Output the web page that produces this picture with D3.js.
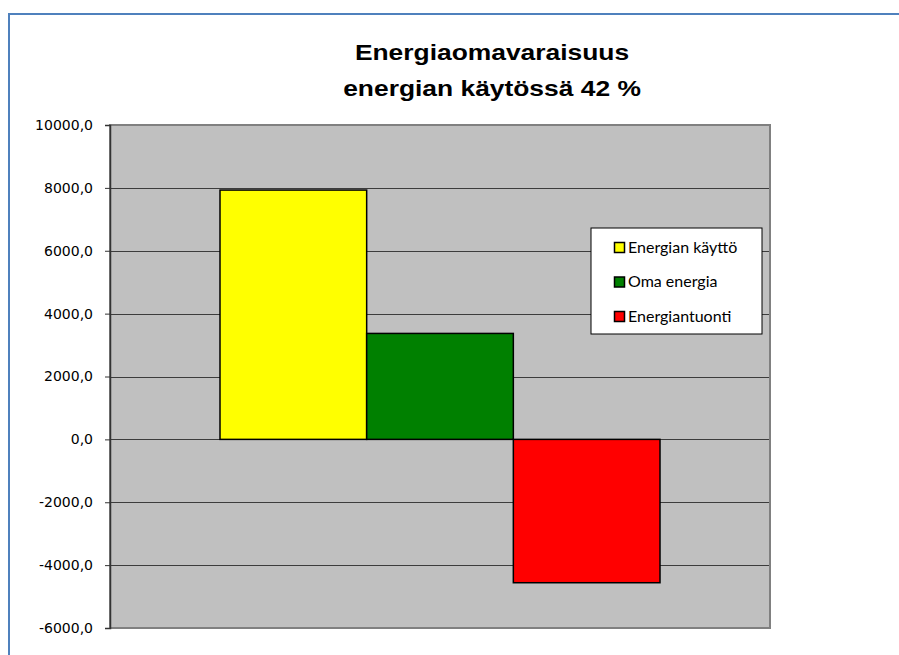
<!DOCTYPE html>
<html>
<head>
<meta charset="utf-8">
<script src="https://cdn.jsdelivr.net/npm/d3@7"></script>
<style>
  body { margin: 0; background: #fff; }
  svg { display: block; }
</style>
</head>
<body>
<div id="chart"></div>
<script>
'use strict';

// Data
var titleLines = ['Energiaomavaraisuus', 'energian käytössä 42 %']
var categories = ['']
var seriesNames = ['Energian käyttö', 'Oma energia', 'Energiantuonti']
var seriesValues = [7930, 3370, -4560]
var seriesColors = ['#FFFF00', '#008000', '#FF0000']
var yTicks = [-6000, -4000, -2000, 0, 2000, 4000, 6000, 8000, 10000]

var W = 899, H = 655
var margin = {top: 125, right: 129, bottom: 27, left: 110}
var width = W - margin.left - margin.right
var height = H - margin.top - margin.bottom

var svg = d3.select('#chart').append('svg')
  .attr('width', W)
  .attr('height', H)

// outer chart border (runs off the right and bottom edges)
svg.append('rect')
  .attr('x', 9).attr('y', 14)
  .attr('width', W + 20).attr('height', H + 20)
  .attr('fill', '#fff')
  .attr('stroke', '#4F81BD')
  .attr('stroke-width', 2)

// Title, the source font is rendered a bit wide
var titleX = 492
svg.append('g')
  .attr('transform', 'translate(' + titleX + ',0) scale(1.2,1)')
  .selectAll('text')
  .data(titleLines)
  .enter().append('text')
    .attr('x', 0)
    .attr('y', function(d, i) { return 60 + i * 36 })
    .attr('text-anchor', 'middle')
    .attr('font-family', 'Liberation Sans, Arial, sans-serif')
    .attr('font-weight', 'bold')
    .attr('font-size', '22px')
    .attr('fill', '#000')
    .text(function(d) { return d })

var g = svg.append('g')
  .attr('transform', 'translate(' + margin.left + ',' + margin.top + ')')

// Scales
var y = d3.scaleLinear()
  .domain([d3.min(yTicks), d3.max(yTicks)])
  .range([height, 0])

var x0 = d3.scaleBand()
  .domain(categories)
  .range([0, width])
  .paddingInner(0)
  .paddingOuter(0.25)

var x1 = d3.scaleBand()
  .domain(seriesNames)
  .range([0, x0.bandwidth()])

// Plot area
g.append('rect')
  .attr('width', width)
  .attr('height', height)
  .attr('fill', '#C0C0C0')

// Gridlines
g.append('g').selectAll('line')
  .data(yTicks.slice(1, -1))
  .enter().append('line')
    .attr('x1', 0).attr('x2', width)
    .attr('y1', function(d) { return Math.round(y(d)) + 0.5 })
    .attr('y2', function(d) { return Math.round(y(d)) + 0.5 })
    .attr('stroke', '#3c3c3c')
    .attr('stroke-width', 1)

// plot border
g.append('rect')
  .attr('width', width)
  .attr('height', height)
  .attr('fill', 'none')
  .attr('stroke', '#808080')
  .attr('stroke-width', 2)

// Bars
var bars = g.append('g')
  .attr('transform', 'translate(' + x0(categories[0]) + ',0)')

bars.selectAll('rect')
  .data(seriesValues)
  .enter().append('rect')
    .attr('x', function(d, i) { return x1(seriesNames[i]) })
    .attr('y', function(d) { return y(Math.max(0, d)) })
    .attr('width', x1.bandwidth())
    .attr('height', function(d) { return Math.abs(y(d) - y(0)) })
    .attr('fill', function(d, i) { return seriesColors[i] })
    .attr('stroke', '#000')
    .attr('stroke-width', 1.5)

// Axis
var fmt = function(d) { return (d < 0 ? '-' : '') + Math.abs(d).toFixed(1).replace('.', ',') }
var yAxis = d3.axisLeft(y)
  .tickValues(yTicks)
  .tickFormat(fmt)
  .tickSize(5)
  .tickPadding(12)

var ax = g.append('g')
  .attr('class', 'axis')
  .call(yAxis)

ax.select('.domain').attr('stroke', '#333').attr('stroke-width', 1.5)
ax.selectAll('.tick line').attr('stroke', '#333')
ax.selectAll('.tick text')
  .attr('fill', '#000')
  .attr('font-family', 'DejaVu Sans, Verdana, sans-serif')
  .attr('font-size', '14px')

// Legend
var legend = svg.append('g')
  .attr('transform', 'translate(591,228)')

legend.append('rect')
  .attr('width', 171)
  .attr('height', 106)
  .attr('fill', '#fff')
  .attr('stroke', '#000')
  .attr('stroke-width', 1)

var items = legend.selectAll('g.item')
  .data(seriesNames)
  .enter().append('g')
    .attr('class', 'item')
    .attr('transform', function(d, i) { return 'translate(0,' + (19 + i * 34.5) + ')' })

items.append('rect')
  .attr('x', 23.5).attr('y', -4.5)
  .attr('width', 10).attr('height', 10)
  .attr('fill', function(d, i) { return seriesColors[i] })
  .attr('stroke', '#000')
  .attr('stroke-width', 1.5)

items.append('text')
  .attr('x', 37)
  .attr('y', 5.5)
  .attr('font-family', 'Lato, Open Sans, sans-serif')
  .attr('font-size', '16px')
  .attr('fill', '#000')
  .text(function(d) { return d })
</script>
</body>
</html>
